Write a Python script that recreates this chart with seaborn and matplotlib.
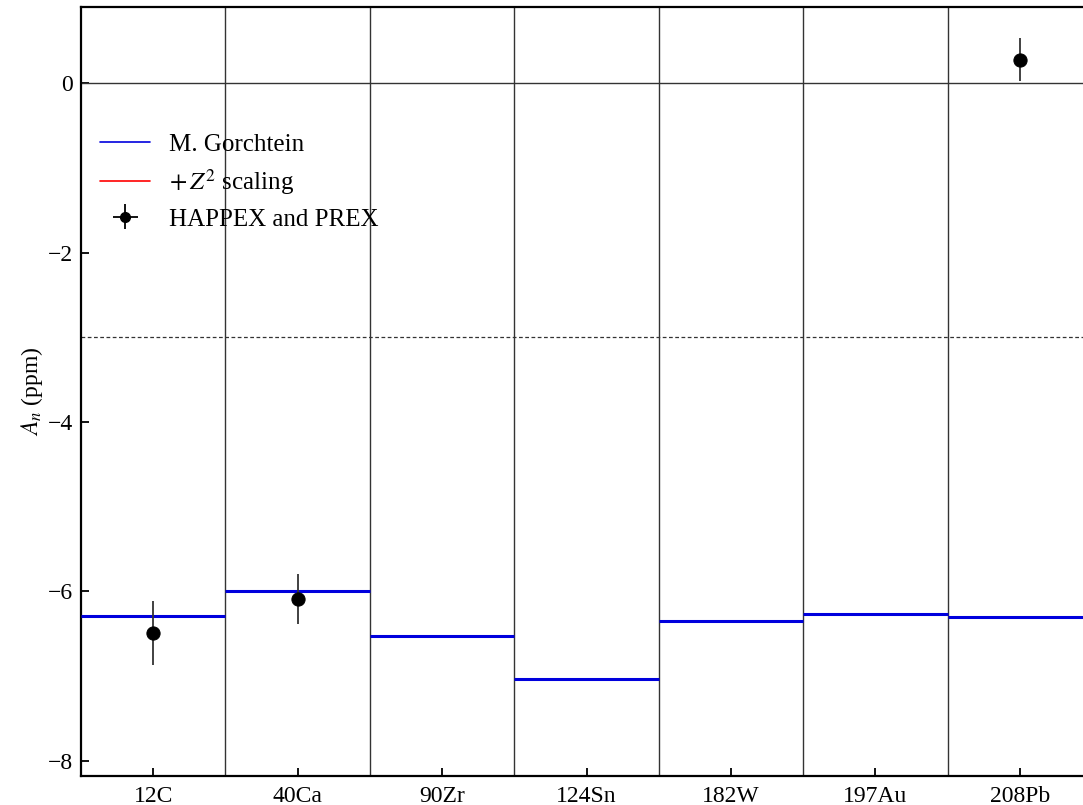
import matplotlib
matplotlib.use("Agg")
import matplotlib.pyplot as plt
import seaborn as sns
import numpy as np
import pandas as pd
from matplotlib.lines import Line2D

nuclei = ["12C", "40Ca", "90Zr", "124Sn", "182W", "197Au", "208Pb"]
gorchtein = [-6.29, -5.99, -6.53, -7.03, -6.35, -6.27, -6.30]
exp_nuclei = ["12C", "40Ca", "208Pb"]
exp_values = [-6.49, -6.09, 0.28]
exp_errors = [0.38, 0.29, 0.25]
yticks = [0, -2, -4, -6, -8]

sns.set_theme(style="ticks")
plt.rcParams["font.family"] = ["Liberation Serif", "DejaVu Serif"]
plt.rcParams["mathtext.fontset"] = "stix"
plt.rcParams["text.color"] = "black"
plt.rcParams["axes.labelcolor"] = "black"

fig = plt.figure(figsize=(10.83, 8.05), dpi=100)
ax = fig.add_axes([81/1083, 1 - 776/805, (1092 - 81)/1083, (776 - 7)/805])

x = np.arange(len(nuclei))
ax.hlines(gorchtein, x - 0.5, x + 0.5, color="#0000dd", lw=2.2, zorder=3)
for xi in x[:-1]:
    ax.axvline(xi + 0.5, color="#333333", lw=1.0, zorder=1)
ax.axhline(0, color="#333333", lw=1.0, zorder=1)
ax.axhline(-3, color="#333333", lw=0.9, ls=(0, (3, 2)), zorder=1)

ex = np.array([nuclei.index(n) for n in exp_nuclei])
df = pd.DataFrame({"x": ex, "y": exp_values})
ax.errorbar(ex, exp_values, yerr=exp_errors, fmt="none", ecolor="#333333", elinewidth=1.3, zorder=4)
sns.scatterplot(data=df, x="x", y="y", color="black", s=90, edgecolor="black", zorder=5, ax=ax, legend=False)

ax.set_xlim(-0.5, len(nuclei) - 0.5)
ax.set_ylim(-8.18, 0.9)
ax.set_xticks(x)
ax.set_xticklabels(nuclei)
ax.set_yticks(yticks)
ax.set_yticklabels(["0", "\u22122", "\u22124", "\u22126", "\u22128"])
ax.set_xlabel("")
ax.set_ylabel("$A_n$ (ppm)", fontsize=17, labelpad=2)
ax.tick_params(direction="in", labelsize=17, length=6, width=1.3, colors="black")
ax.tick_params(axis="x", pad=7)
ax.tick_params(axis="y", pad=6)
for s in ax.spines.values():
    s.set_linewidth(1.6)
    s.set_color("black")

handles = [
    Line2D([], [], color="#0000dd", lw=1.2),
    Line2D([], [], color="red", lw=1.2),
    ax.errorbar([], [], xerr=[], yerr=[], fmt="o", color="black", ms=7, elinewidth=1.3),
]
ax.legend(handles, ["M. Gorchtein", "$+\\,Z^2$ scaling", "HAPPEX and PREX"],
          loc="upper left", bbox_to_anchor=(-0.003, 0.865), frameon=False, fontsize=18,
          handlelength=2.0, labelspacing=0.45, handletextpad=0.75)

fig.savefig("out.png", dpi=100)
